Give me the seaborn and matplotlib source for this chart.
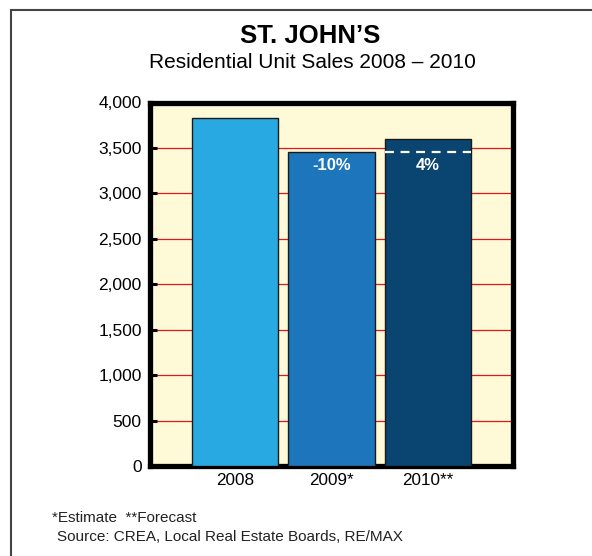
import pandas as pd
import matplotlib
matplotlib.use("Agg")
import matplotlib.pyplot as plt
import seaborn as sns
from matplotlib.patches import Rectangle

# data
years = ["2008", "2009*", "2010**"]
sales = [3830, 3450, 3600]
change_labels = ["", "-10%", "4%"]
bar_colors = ["#29a9e1", "#1d76bb", "#0a4471"]

df = pd.DataFrame({"year": years, "sales": sales})

sns.set_style("white")
plt.rcParams["font.family"] = ["Liberation Sans", "DejaVu Sans"]
plt.rcParams["text.color"] = "black"
plt.rcParams["xtick.color"] = "black"
plt.rcParams["ytick.color"] = "black"

fig = plt.figure(figsize=(5.92, 5.56), dpi=100)
ax = fig.add_axes([150 / 592, 1 - 466 / 556, 363 / 592, 363.5 / 556])
ax.set_facecolor("#fefad8")

sns.barplot(data=df, x="year", y="sales", hue="year", palette=bar_colors,
            saturation=1, width=0.9, legend=False, edgecolor="#1a1a1a",
            linewidth=1, ax=ax, zorder=3)

ax.set_xlim(-0.88, 2.88)
ax.set_ylim(0, 4000)
ax.set_yticks(range(0, 4001, 500))
ax.set_yticklabels([f"{v:,}" for v in range(0, 4001, 500)])
ax.yaxis.grid(True, color="#e8141c", linewidth=0.9, zorder=1)
ax.set_axisbelow(True)
ax.set_xlabel("")
ax.set_ylabel("")

for s in ax.spines.values():
    s.set_visible(True)
    s.set_color("black")
    s.set_linewidth(3.8)

ax.tick_params(axis="y", direction="in", length=5, width=2.2, color="black",
               labelsize=12.5, pad=6, left=True)
ax.tick_params(axis="x", length=0, labelsize=12.3, pad=5)

# dashed reference at the previous year's level on the forecast bar
ax.hlines(sales[1], 2 - 0.45, 2 + 0.45, colors="white", linestyles=(0, (4, 3)),
          linewidth=1.6, zorder=4)

for i, lab in enumerate(change_labels):
    if lab:
        ax.annotate(lab, (i, sales[1]), xytext=(0, -4), textcoords="offset points",
                    ha="center", va="top", color="white", fontsize=12,
                    fontweight="bold", zorder=5)

fig.text(310 / 592, 1 - 36 / 556, "ST. JOHN\u2019S", ha="center", va="center",
         fontsize=18.5, fontweight="bold")
fig.text(312 / 592, 1 - 63 / 556, "Residential Unit Sales 2008 \u2013 2010",
         ha="center", va="center", fontsize=15)

fig.text(52 / 592, 1 - 518 / 556, "*Estimate  **Forecast", ha="left", va="center",
         fontsize=11, color="#222222")
fig.text(57 / 592, 1 - 537 / 556, "Source: CREA, Local Real Estate Boards, RE/MAX",
         ha="left", va="center", fontsize=11, color="#222222")

# outer frame, runs off the right and bottom of the image
fig.patches.append(Rectangle((11 / 592, -0.1), 1.0, 1 - 10 / 556 + 0.1,
                             transform=fig.transFigure, fill=False,
                             edgecolor="#444444", linewidth=1.5))

fig.savefig("out.png", dpi=100)
